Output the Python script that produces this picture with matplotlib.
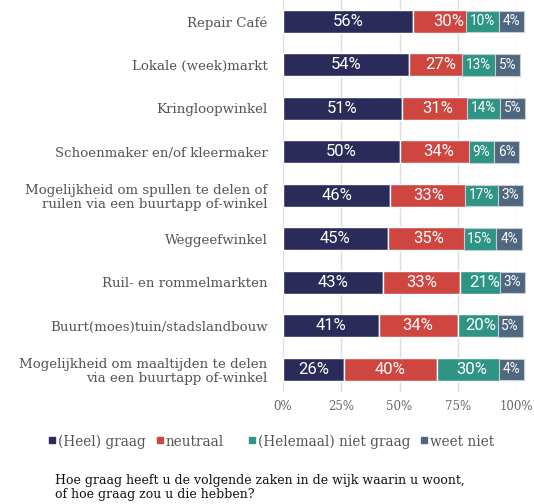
import matplotlib
matplotlib.use("Agg")
import matplotlib.pyplot as plt
from matplotlib.lines import Line2D
import numpy as np

categories = [
    "Repair Café",
    "Lokale (week)markt",
    "Kringloopwinkel",
    "Schoenmaker en/of kleermaker",
    "Mogelijkheid om spullen te delen of\nruilen via een buurtapp of-winkel",
    "Weggeefwinkel",
    "Ruil- en rommelmarkten",
    "Buurt(moes)tuin/stadslandbouw",
    "Mogelijkheid om maaltijden te delen\nvia een buurtapp of-winkel",
]
heel_graag = [56, 54, 51, 50, 46, 45, 43, 41, 26]
neutraal = [30, 27, 31, 34, 33, 35, 33, 34, 40]
niet_graag = [10, 13, 14, 9, 17, 15, 21, 20, 30]
weet_niet = [4, 5, 5, 6, 3, 4, 3, 5, 4]
series_names = ["(Heel) graag", "neutraal", "(Helemaal) niet graag", "weet niet"]
colors = ["#2b2b5a", "#cf4540", "#2e9585", "#4f687f"]
xticks = [0, 25, 50, 75, 100]
xticklabels = ["0%", "25%", "50%", "75%", "100%"]

W, H = 534, 504
fig = plt.figure(figsize=(W / 100, H / 100), dpi=100)
ax = fig.add_axes([283 / W, 1 - 392 / H, 233 / W, 392 / H])

serif = "DejaVu Serif"
sans = "Roboto"

y = np.arange(len(categories))
left = np.zeros(len(categories))
all_series = [heel_graag, neutraal, niet_graag, weet_niet]
row_labels = {i: [] for i in range(len(categories))}
for s_i, (vals, c) in enumerate(zip(all_series, colors)):
    vals = np.array(vals, dtype=float)
    ax.barh(y, vals, left=left, height=0.53, color=c, edgecolor="white",
            linewidth=1, zorder=3)
    for yi, (l, v) in enumerate(zip(left, vals)):
        cx = l + v / 2
        if v >= 20:
            ax.text(cx, yi, f"{int(v)}%", ha="center", va="center",
                    color="white", fontsize=12, family=sans, zorder=5)
        else:
            t = ax.text(cx, yi, f"{int(v)}%", ha="center", va="center",
                        color="white", fontsize=9.8, family=sans,
                        zorder=5 + s_i,
                        bbox=dict(boxstyle="square,pad=0.28", fc=c,
                                  ec="#c8ccd4", lw=0.8))
            row_labels[yi].append(t)
    left = left + vals

ax.set_xlim(0, 100)
ax.set_ylim(8.52, -0.494)
ax.set_xticks(xticks)
ax.set_xticklabels(xticklabels, family=serif, fontsize=8.5, color="#666666")
ax.set_yticks(y)
ax.set_yticklabels(categories, family=serif, fontsize=9.6, color="#555555",
                   linespacing=1.1)
ax.tick_params(axis="both", length=0)
ax.tick_params(axis="y", pad=11)
ax.tick_params(axis="x", pad=6)
ax.grid(axis="x", color="#dddddd", linewidth=1, zorder=0)
for sp in ax.spines.values():
    sp.set_visible(False)

# resolve collisions among boxed labels: shift left so boxes abut
fig.canvas.draw()
renderer = fig.canvas.get_renderer()
px_per_unit = ax.transData.transform((1, 0))[0] - ax.transData.transform((0, 0))[0]
for yi, labels in row_labels.items():
    if len(labels) < 2:
        continue
    next_left = None
    for t in reversed(labels):
        bb = t.get_bbox_patch().get_window_extent(renderer)
        if next_left is not None and bb.x1 > next_left:
            shift = (bb.x1 - next_left) / px_per_unit
            x0, y0 = t.get_position()
            t.set_position((x0 - shift, y0))
            next_left = bb.x0 - (bb.x1 - next_left)
        else:
            next_left = bb.x0

# legend drawn as squares + texts at fixed figure positions
leg_y = 1 - 440 / H
sq_x = [52, 160, 252, 424]
for name, c, sx in zip(series_names, colors, sq_x):
    fig.add_artist(Line2D([sx / W], [leg_y], marker="s", markersize=5,
                          linestyle="none", color=c,
                          transform=fig.transFigure))
    fig.text((sx + 6) / W, leg_y, name, family=serif, fontsize=9.8,
             color="#555555", va="center_baseline", ha="left")

fig.text(55 / W, 1 - 474 / H,
         "Hoe graag heeft u de volgende zaken in de wijk waarin u woont,\nof hoe graag zou u die hebben?",
         family=serif, fontsize=9, color="#111111", va="top", ha="left",
         linespacing=1.1)

fig.savefig("out.png", dpi=100)
